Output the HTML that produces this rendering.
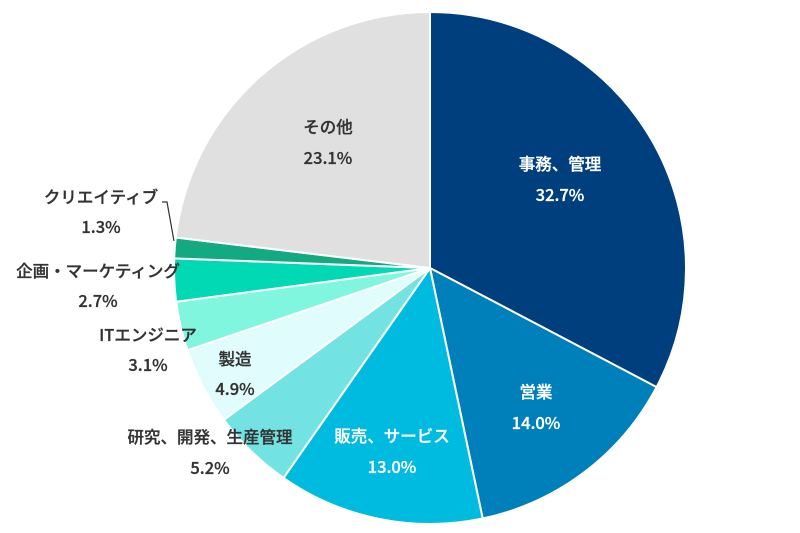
<!DOCTYPE html>
<html><head><meta charset="utf-8"><style>
html,body{margin:0;padding:0;background:#fff;}
svg{display:block;}
text{font-family:"Noto Sans CJK JP","Liberation Sans",sans-serif;font-size:16.5px;font-weight:500;text-anchor:middle;}
</style></head><body>
<svg width="800" height="533" viewBox="0 0 800 533">
<g stroke="#fff" stroke-width="2" stroke-linejoin="round">
<path d="M430,268 L430,12 A256,256 0 0 1 656.6,387.1 Z" fill="#003f7d"/>
<path d="M430,268 L656.6,387.1 A256,256 0 0 1 482.7,518.5 Z" fill="#0080ba"/>
<path d="M430,268 L482.7,518.5 A256,256 0 0 1 283.5,477.9 Z" fill="#00bbe0"/>
<path d="M430,268 L283.5,477.9 A256,256 0 0 1 223.9,419.8 Z" fill="#73e2e3"/>
<path d="M430,268 L223.9,419.8 A256,256 0 0 1 187.5,350.2 Z" fill="#e0fcfd"/>
<path d="M430,268 L187.5,350.2 A256,256 0 0 1 176.2,301.7 Z" fill="#7ff6dd"/>
<path d="M430,268 L176.2,301.7 A256,256 0 0 1 174.2,258.4 Z" fill="#00d9b4"/>
<path d="M430,268 L174.2,258.4 A256,256 0 0 1 175.8,237.5 Z" fill="#13a981"/>
<path d="M430,268 L175.8,237.5 A256,256 0 0 1 430,12 Z" fill="#e0e0e0"/>
</g>
<polyline points="162,202 167,202 174,241" fill="none" stroke="#333" stroke-width="1.2"/>
<g fill="#fff" stroke="#fff" stroke-width="0.3">
<text x="560" y="170">事務、管理</text>
<text x="560" y="201">32.7%</text>
<text x="536" y="398">営業</text>
<text x="536" y="429">14.0%</text>
<text x="392" y="442">販売、サービス</text>
<text x="392" y="473">13.0%</text>
</g>
<g fill="#333" stroke="#333" stroke-width="0.3">
<text x="328" y="133">その他</text>
<text x="328" y="164">23.1%</text>
<text x="101" y="203">クリエイティブ</text>
<text x="101" y="233">1.3%</text>
<text x="98" y="277">企画・マーケティング</text>
<text x="98" y="307">2.7%</text>
<text x="148" y="341">ITエンジニア</text>
<text x="148" y="371">3.1%</text>
<text x="235" y="365">製造</text>
<text x="235" y="395">4.9%</text>
<text x="210" y="443">研究、開発、生産管理</text>
<text x="210" y="474">5.2%</text>
</g>
</svg>
</body></html>
